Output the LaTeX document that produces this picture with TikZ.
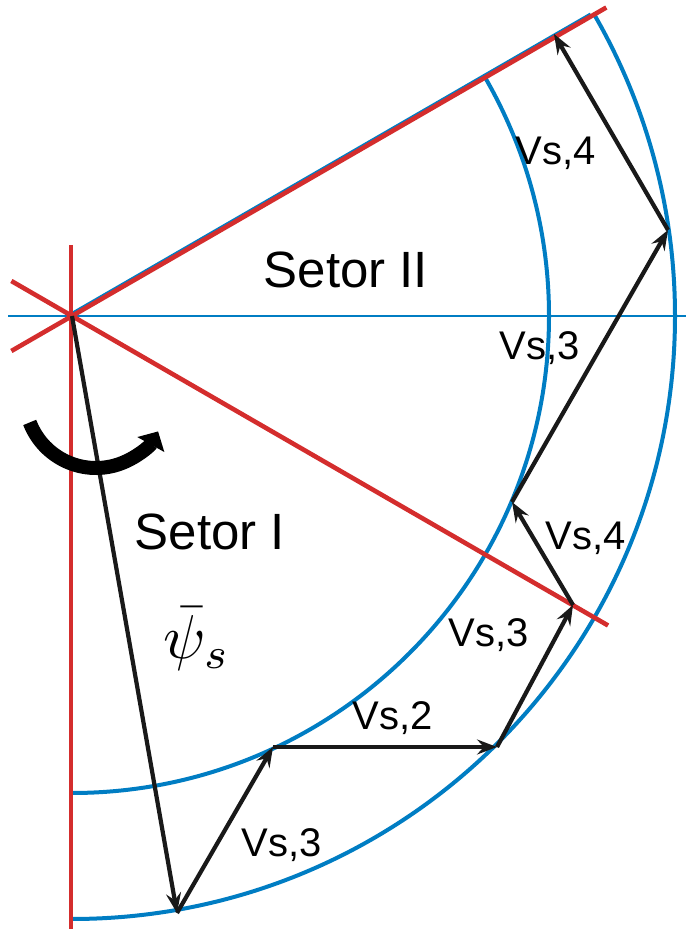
\documentclass[tikz,border=0pt]{standalone}
\usepackage{fontspec}
\usepackage{graphicx}
\setmainfont{Liberation Sans}
\usetikzlibrary{arrows.meta,calc}
\definecolor{myblue}{RGB}{0,125,195}
\definecolor{myred}{RGB}{212,45,45}
\begin{document}
\begin{tikzpicture}[x=1pt,y=1pt,
  bluearc/.style={myblue, line width=4pt},
  blueline/.style={myblue, line width=1.8pt},
  redline/.style={myred, line width=4.6pt},
  vec/.style={black!90, line width=4.2pt, -{Stealth[length=20pt,width=15pt,inset=7pt]}},
  lbl/.style={font=\fontsize{40}{44}\selectfont, inner sep=0pt, anchor=base},
  big/.style={font=\fontsize{51}{58}\selectfont, inner sep=0pt, anchor=base},
  turn/.style={black, line width=14pt, -{Triangle[length=15pt,width=30pt]}}]
\useasboundingbox (0,0) rectangle (686,929);
\coordinate (C) at (72,613);
\coordinate (hl) at (8,613);
\coordinate (hr) at (686,613);
\coordinate (vt) at (71,684);
\coordinate (vb) at (71,0);
% blue guide lines and arcs
\draw[blueline] (hl) -- (hr);
\draw[bluearc] ([shift={(-90:477)}]C) arc[start angle=-90,end angle=30,radius=477];
\draw[bluearc] ([shift={(-90:603)}]C) arc[start angle=-90,end angle=30,radius=603];
\coordinate (B0) at ($(C)+(-1,2)$);
\coordinate (B1) at ($(C)+(-1,2)+(30:600)$);
\draw[blueline, line width=3pt] (B0) -- (B1);
% red sector lines
\draw[redline] (vt) -- (vb);
\draw[redline] ([shift={(210:70)}]C) -- ([shift={(30:617)}]C);
\draw[redline] ([shift={(150:70)}]C) -- ([shift={(-30:619)}]C);
% vector points
\coordinate (P1) at (177,16);
\coordinate (P2) at (273,182);
\coordinate (P3) at (497,182);
\coordinate (P4) at (573,324);
\coordinate (P5) at (512,427);
\coordinate (P6) at (668,699);
\coordinate (P7) at (554,895);
\draw[vec] (C) -- (P1);
\draw[vec] (P1) -- (P2);
\draw[vec] (P2) -- (P3);
\draw[vec] (P3) -- (P4);
\draw[vec] (P4) -- (P5);
\draw[vec] (P5) -- (P6);
\draw[vec] (P6) -- (P7);
% rotation arrow
\coordinate (T0) at ([shift={(201:71)}]96,532);
\draw[turn] (T0) arc[start angle=201,end angle=331,radius=71];
% labels
\node[big] (s2) at (346,641) {Setor II};
\node[big] (s1) at (210,379) {Setor I};
\node[lbl] (l1) at (556,764) {Vs,4};
\node[lbl] (l2) at (540,569) {Vs,3};
\node[lbl] (l3) at (586,379) {Vs,4};
\node[lbl] (l4) at (489,282) {Vs,3};
\node[lbl] (l5) at (393,199) {Vs,2};
\node[lbl] (l6) at (282,72) {Vs,3};
\node[inner sep=0pt, anchor=base] (psi) at (197,270) {\scalebox{6.2}{$\bar{\psi}_s$}};
\end{tikzpicture}
\end{document}
